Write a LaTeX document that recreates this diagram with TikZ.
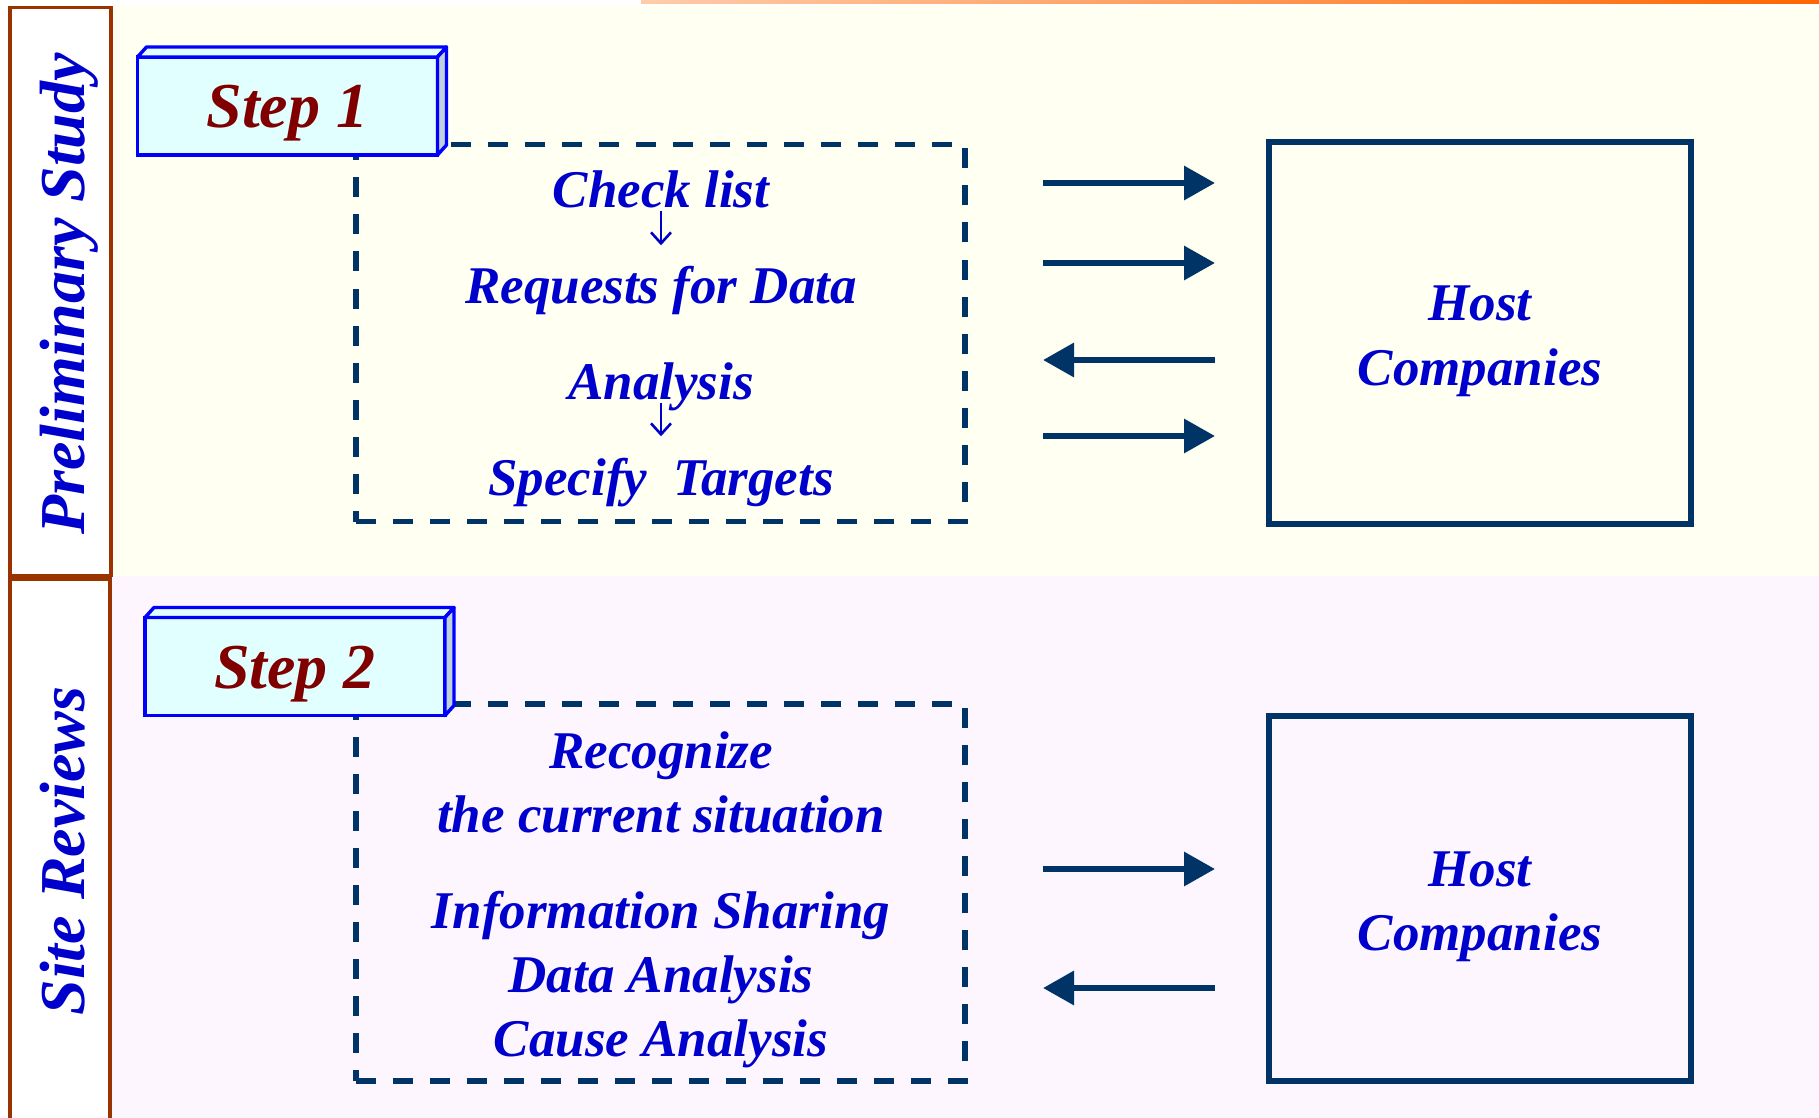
\documentclass[tikz,border=0pt]{standalone}
\usepackage{fontspec}
\setmainfont{Liberation Serif}
\usetikzlibrary{arrows.meta}

\definecolor{txtblue}{RGB}{0,0,204}
\definecolor{stepred}{RGB}{128,0,0}
\definecolor{stepblue}{RGB}{0,0,255}
\definecolor{stepfill}{RGB}{226,255,255}
\definecolor{stepside}{RGB}{192,210,216}
\definecolor{navy}{RGB}{0,51,102}
\definecolor{brownline}{RGB}{153,51,0}
\definecolor{bandyellow}{RGB}{255,255,242}
\definecolor{bandpink}{RGB}{253,246,255}
\definecolor{orangeA}{RGB}{255,204,170}
\definecolor{orangeB}{RGB}{255,102,0}

\begin{document}
\begin{tikzpicture}[x=0.5pt, y=-0.5pt,
    phase/.style={font=\fontsize{32}{38}\selectfont\bfseries\itshape, text=txtblue,
        rotate=90, anchor=base, inner sep=0pt},
    stepbox/.style={draw=stepblue, line width=1.7pt, fill=stepfill, outer sep=0pt,
        minimum width=150pt, minimum height=49pt, text=stepred,
        font=\fontsize{32}{38}\selectfont\bfseries\itshape, text height=22pt, text depth=0pt},
    stepedge/.style={draw=stepblue, line width=1.7pt, line join=round},
    dashbox/.style={draw=navy, line width=2.8pt, dash pattern=on 10pt off 8.5pt,
        minimum width=304.5pt, minimum height=188.5pt, outer sep=0pt},
    hostbox/.style={draw=navy, line width=3pt, minimum width=211pt, outer sep=0pt},
    entry/.style={font=\fontsize{26.5}{32}\selectfont\bfseries\itshape, text=txtblue,
        anchor=base, inner sep=0pt},
    smallarrow/.style={draw=txtblue, line width=1.3pt, -{Straight Barb[length=5.5pt,width=10pt]}},
    bigarrow/.style={draw=navy, line width=3.2pt, -{Triangle[length=15.5pt,width=16.5pt]}}]

    \useasboundingbox (0,0) rectangle (1819,1118);

    % backgrounds
    \fill[white] (0,0) rectangle (1819,1118);
    \fill[bandyellow] (111,6) rectangle (1819,576);
    \fill[bandpink] (111,576) rectangle (1819,1118);
    \shade[left color=orangeA, right color=orangeB] (641,0) rectangle (1819,3.5);

    % phase column
    \draw[brownline, line width=1.75pt] (10,7.5) rectangle (111,575.5);
    \draw[brownline, line width=1.75pt] (10,579) rectangle (110,1130);
    \node[phase] (prelim) at (84,294) {Preliminary Study};
    \node[phase] (site) at (84,851) {Site Reviews};

    % step 1
    \node[dashbox] (study) at (660.5,333) {};
    \node[stepbox] (step1) at (287.5,106) {Step 1};
    \draw[stepedge, fill=stepfill] (step1.north west) -- ++(9,-10)
        -- ([shift={(9,-10)}]step1.north east) -- (step1.north east) -- cycle;
    \draw[stepedge, fill=stepside] (step1.north east) -- ++(9,-10)
        -- ([shift={(9,-10)}]step1.south east) -- (step1.south east) -- cycle;

    \node[entry] (check) at (661,208) {Check list};
    \node[entry] (req) at (661,303) {Requests for Data};
    \node[entry] (ana) at (661,399) {Analysis};
    \node[entry] (spec) at (661,495) {Specify\ \ Targets};
    \draw[smallarrow, shorten <=1pt, shorten >=10pt] (check) -- (req);
    \draw[smallarrow, shorten <=-4pt, shorten >=10.5pt] (ana) -- (spec);

    \node[hostbox, minimum height=190.5pt] (host1) at (1480,333) {};
    \node[entry] (hostA) at (1480,321) {Host};
    \node[entry] (compA) at (1480,385) {Companies};

    \draw[bigarrow, shorten <=39pt, shorten >=27pt] ([yshift=75pt]study.east) -- ([yshift=75pt]host1.west);
    \draw[bigarrow, shorten <=39pt, shorten >=27pt] ([yshift=35pt]study.east) -- ([yshift=35pt]host1.west);
    \draw[bigarrow, shorten <=27pt, shorten >=39pt] ([yshift=-13.5pt]host1.west) -- ([yshift=-13.5pt]study.east);
    \draw[bigarrow, shorten <=39pt, shorten >=27pt] ([yshift=-51.5pt]study.east) -- ([yshift=-51.5pt]host1.west);

    % step 2
    \node[dashbox] (review) at (660.5,892.5) {};
    \node[stepbox] (step2) at (295,666.5) {Step 2};
    \draw[stepedge, fill=stepfill] (step2.north west) -- ++(9,-10)
        -- ([shift={(9,-10)}]step2.north east) -- (step2.north east) -- cycle;
    \draw[stepedge, fill=stepside] (step2.north east) -- ++(9,-10)
        -- ([shift={(9,-10)}]step2.south east) -- (step2.south east) -- cycle;

    \node[entry] (rec) at (661,768) {Recognize};
    \node[entry] (cur) at (661,832) {the current situation};
    \node[entry] (info) at (661,928) {Information Sharing};
    \node[entry] (data) at (661,992) {Data Analysis};
    \node[entry] (cause) at (661,1056) {Cause Analysis};

    \node[hostbox, minimum height=182.5pt] (host2) at (1480,898.5) {};
    \node[entry] (hostB) at (1480,886) {Host};
    \node[entry] (compB) at (1480,950) {Companies};

    \draw[bigarrow, shorten <=39pt, shorten >=27pt] ([yshift=11.75pt]review.east) -- ([yshift=14.75pt]host2.west);
    \draw[bigarrow, shorten <=27pt, shorten >=39pt] ([yshift=-44.75pt]host2.west) -- ([yshift=-47.75pt]review.east);
\end{tikzpicture}
\end{document}
